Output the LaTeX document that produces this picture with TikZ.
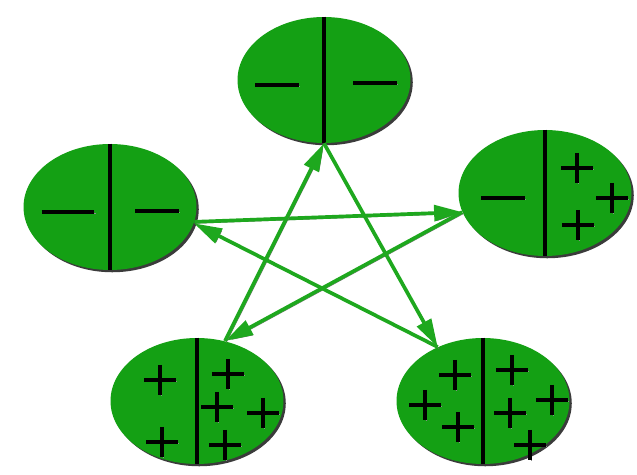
\documentclass[tikz,border=0pt]{standalone}
\usetikzlibrary{shapes.geometric, arrows.meta, shadows}
\definecolor{leafgreen}{RGB}{20,160,20}
\definecolor{arrowgreen}{RGB}{30,168,30}

\begin{document}
\begin{tikzpicture}[x=0.02cm, y=-0.02cm,
    cell/.style={ellipse, fill=leafgreen, minimum width=3.46cm, minimum height=2.52cm, inner sep=0pt,
        drop shadow={shadow xshift=1.3pt, shadow yshift=-1.3pt, fill=black!85, opacity=.9}},
    divider/.style={line width=1.9pt, black},
    sign/.style={line width=2.7pt, black,
        preaction={draw=black!45, transform canvas={shift={(0.7pt,-0.7pt)}}}},
    flow/.style={line width=2.1pt, arrowgreen, -{Triangle[length=16pt, width=9pt]},
        preaction={draw=black!55, transform canvas={shift={(0.8pt,-0.8pt)}}}},
    plussign/.pic={\draw[sign] (-16,0) -- (16,0) (0,-15) -- (0,15);},
    minussign/.pic={\draw[sign] (-22,0) -- (22,0);}
]
    \useasboundingbox (0,0) rectangle (637,475);

    % the five cells
    \node[cell] (tp) at (324,80) {};
    \node[cell] (lf) at (110,207) {};
    \node[cell] (rt) at (545,193) {};
    \node[cell] (bl) at (197,401) {};
    \node[cell] (br) at (483,401) {};

    % dividing lines
    \foreach \c in {tp, lf, rt, bl, br}
        \draw[divider] (\c.north) -- (\c.south);

    % charges
    \pic at (277,85) {minussign};
    \pic at (375,83) {minussign};
    \pic[xscale=1.2] at (68,212) {minussign};
    \pic at (157,211) {minussign};
    \pic at (503,198) {minussign};
    \foreach \p in {(577,168), (612,198), (578,225)}
        \pic at \p {plussign};
    \foreach \p in {(160,380), (162,442), (228,374), (217,407), (263,413), (225,445)}
        \pic at \p {plussign};
    \foreach \p in {(455,375), (425,405), (458,427), (512,370), (510,413), (552,400), (530,445)}
        \pic at \p {plussign};

    % star of transfers
    \draw[flow] (lf.-10) -- (rt.193);
    \draw[flow] (rt.193) -- (bl.65);
    \draw[flow] (bl.65) -- (tp.south);
    \draw[flow] (tp.south) -- (br.130);
    \draw[flow] (br.130) -- (lf.-11);
\end{tikzpicture}
\end{document}
